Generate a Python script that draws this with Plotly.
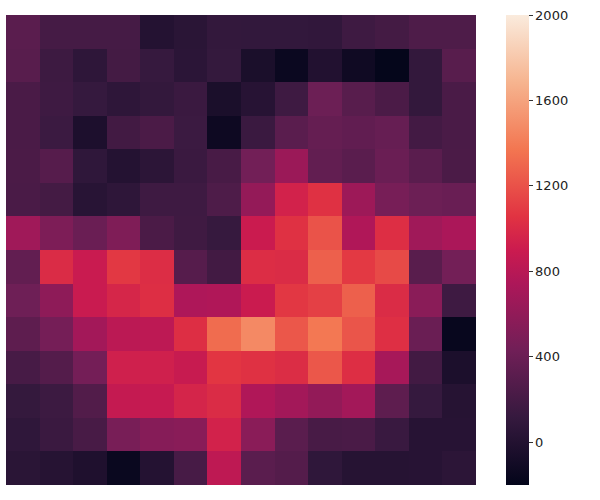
import plotly.graph_objects as go

rows = list(range(14))
cols = list(range(14))

values = [
    [310, 202, 202, 202, 7, 45, 101, 95, 95, 89, 162, 194, 248, 248],
    [300, 157, 70, 194, 120, 51, 108, -49, -150, -5, -118, -187, 101, 300],
    [226, 162, 114, 70, 101, 140, -49, 26, 162, 408, 300, 231, 101, 226],
    [226, 146, -37, 183, 231, 146, -131, 140, 310, 370, 349, 375, 189, 226],
    [231, 290, 76, 7, 57, 140, 216, 440, 650, 354, 310, 397, 310, 231],
    [226, 194, 32, 70, 162, 162, 248, 614, 948, 1045, 660, 465, 408, 392],
    [676, 496, 397, 506, 231, 168, 120, 893, 1045, 1207, 761, 1027, 676, 733],
    [354, 1009, 887, 1080, 1021, 290, 183, 1021, 1009, 1268, 1085, 1165, 305, 445],
    [418, 583, 887, 972, 1027, 749, 761, 893, 1075, 1118, 1268, 1009, 563, 162],
    [333, 455, 691, 815, 827, 1027, 1324, 1467, 1226, 1380, 1217, 1033, 397, -169],
    [210, 279, 450, 930, 930, 881, 1067, 1045, 1015, 1226, 1027, 712, 183, -43],
    [108, 151, 269, 863, 876, 966, 1009, 761, 691, 609, 691, 333, 114, 20],
    [76, 140, 216, 470, 542, 558, 948, 563, 310, 216, 226, 135, 26, 26],
    [45, 20, -24, -156, 7, 210, 833, 310, 279, 76, 20, 20, 26, 57],
]

cbar_ticks = [0, 400, 800, 1200, 1600, 2000]

rocket = [
    [0.0, "#03051a"],
    [1 / 7, "#35193e"],
    [2 / 7, "#701f57"],
    [3 / 7, "#ad1759"],
    [0.5, "#cb1b4f"],
    [4 / 7, "#e13342"],
    [5 / 7, "#f37651"],
    [6 / 7, "#f6b48f"],
    [1.0, "#faebdd"],
]

fig = go.Figure(
    go.Heatmap(
        z=values,
        x=cols,
        y=rows,
        zmin=-200,
        zmax=2000,
        colorscale=rocket,
        colorbar=dict(
            thickness=23,
            thicknessmode="pixels",
            len=1,
            lenmode="fraction",
            x=1.0638,
            xanchor="left",
            xpad=0,
            y=0.5,
            yanchor="middle",
            ypad=0,
            outlinewidth=0,
            ticks="outside",
            ticklen=4,
            tickwidth=1,
            tickcolor="#333",
            tickvals=cbar_ticks,
            ticktext=[str(t) for t in cbar_ticks],
            tickfont=dict(family="DejaVu Sans", size=13, color="#222"),
        ),
    )
)

fig.update_xaxes(showticklabels=False, showgrid=False, zeroline=False, ticks="")
fig.update_yaxes(showticklabels=False, showgrid=False, zeroline=False, ticks="", autorange="reversed")

fig.update_layout(
    width=600,
    height=500,
    margin=dict(l=6, r=124, t=15, b=15),
    paper_bgcolor="white",
    plot_bgcolor="white",
)

fig.write_html(
    "out.html",
    config={"displayModeBar": False},
    post_script="document.body.style.margin='0px';",
)
